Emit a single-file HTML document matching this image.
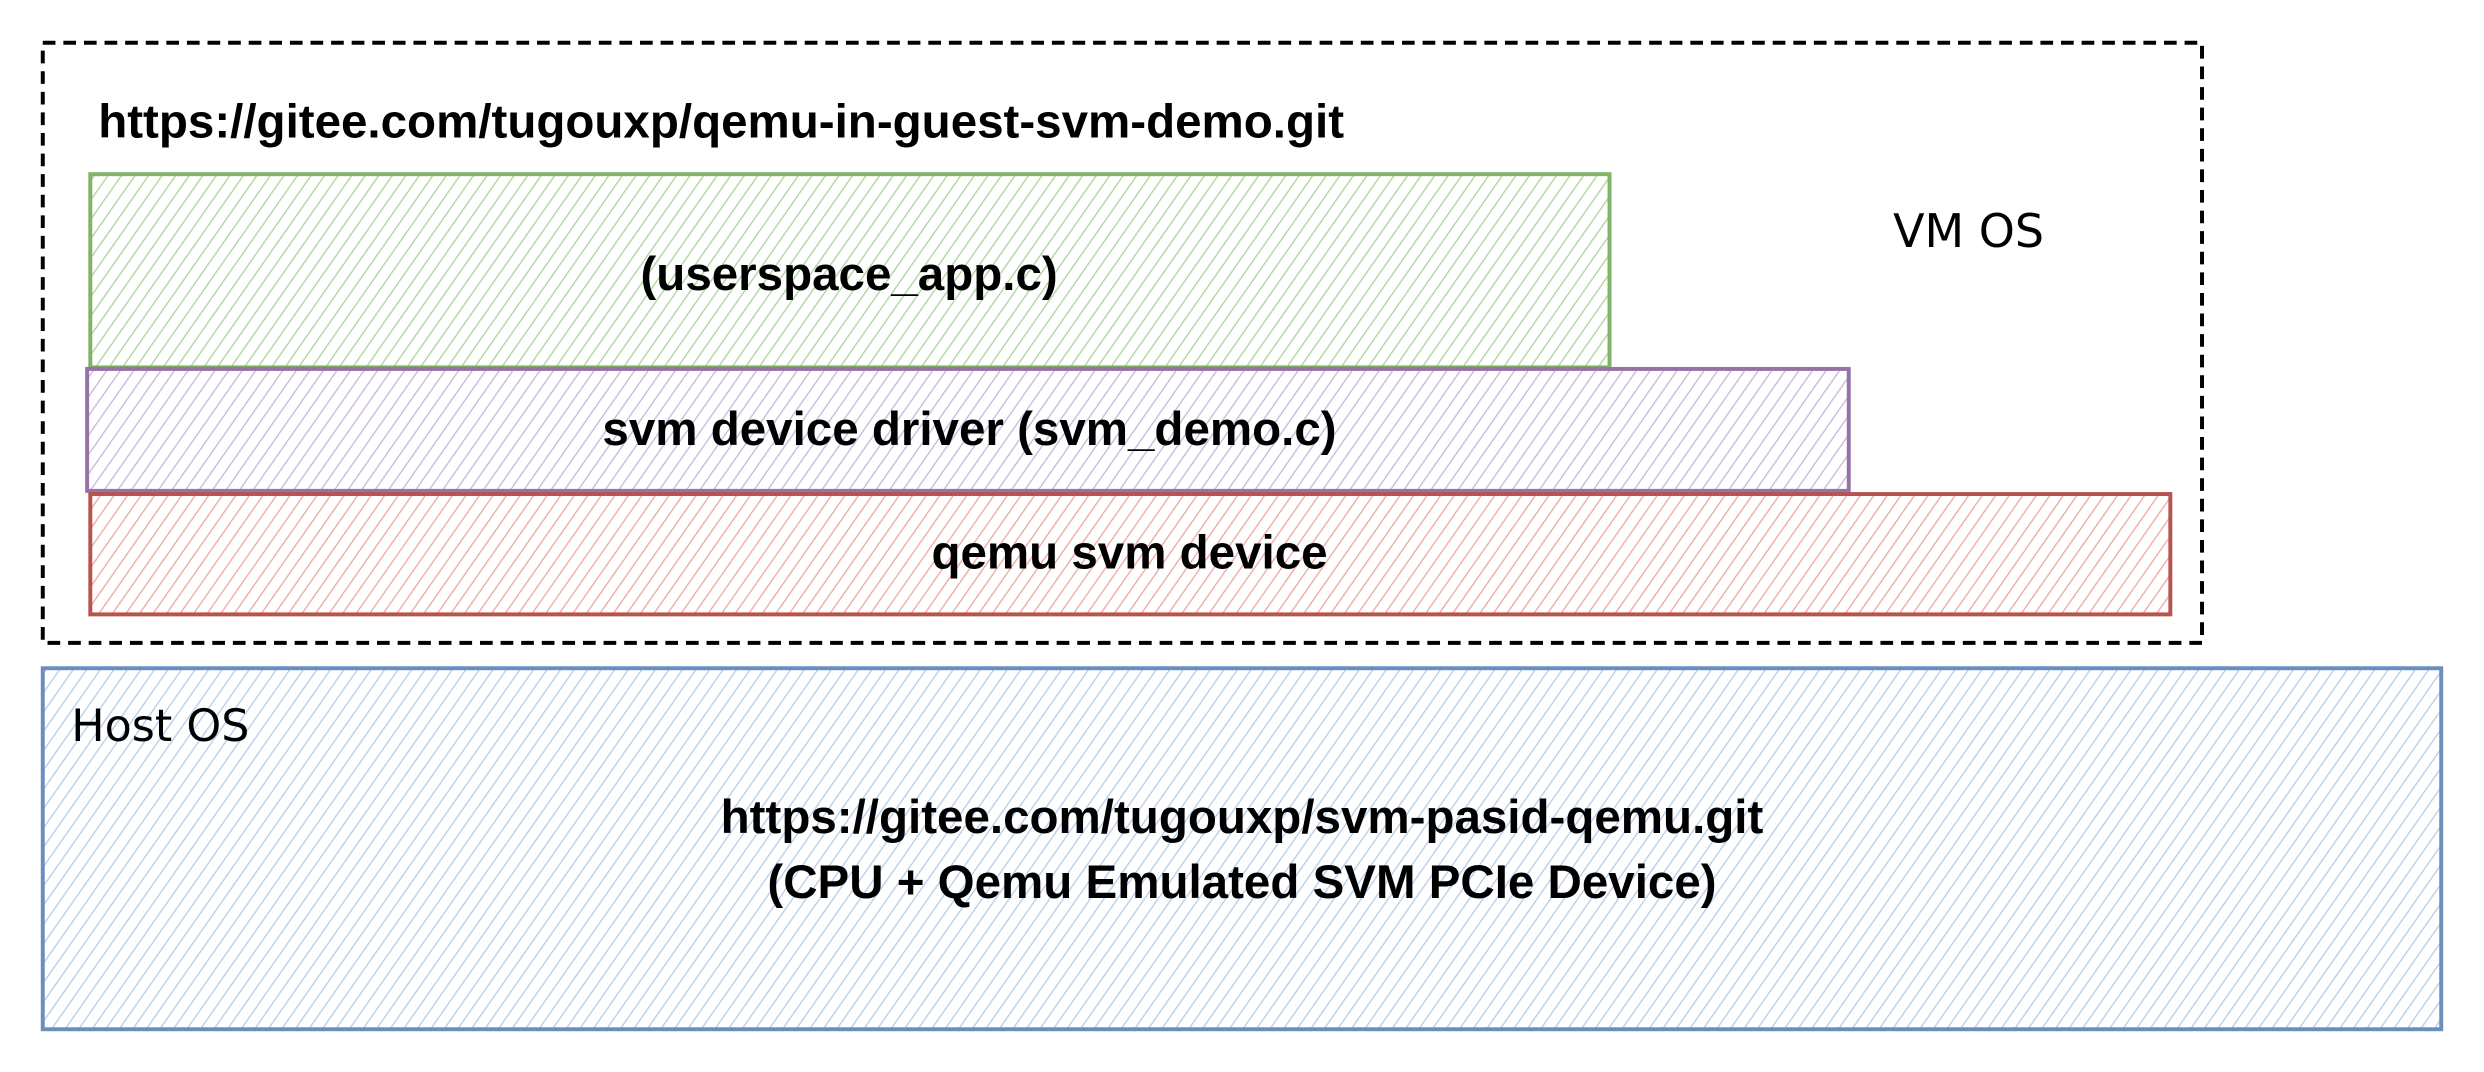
<!DOCTYPE html>
<html><head><meta charset="utf-8"><style>
html,body{margin:0;padding:0;background:#fff;}
svg{display:block;}
text{font-family:"Liberation Sans",sans-serif;font-weight:bold;fill:#000;}
.hand{font-family:"DejaVu Sans",sans-serif;font-weight:normal;}
</style></head><body>
<svg width="2484" height="1072" viewBox="0 0 1568 677" preserveAspectRatio="none" xmlns="http://www.w3.org/2000/svg">
<defs>
<pattern id="hg" width="7" height="7" patternUnits="userSpaceOnUse" patternTransform="rotate(35)"><line x1="0" y1="0" x2="0" y2="7" stroke="#a9d494" stroke-width="1.6"/></pattern>
<pattern id="hp" width="7" height="7" patternUnits="userSpaceOnUse" patternTransform="rotate(35)"><line x1="0" y1="0" x2="0" y2="7" stroke="#c9b2dc" stroke-width="1.6"/></pattern>
<pattern id="hr" width="7" height="7" patternUnits="userSpaceOnUse" patternTransform="rotate(35)"><line x1="0" y1="0" x2="0" y2="7" stroke="#f0a3a0" stroke-width="1.6"/></pattern>
<pattern id="hb" width="7" height="7" patternUnits="userSpaceOnUse" patternTransform="rotate(35)"><line x1="0" y1="0" x2="0" y2="7" stroke="#b3cbec" stroke-width="1.6"/></pattern>
</defs>
<rect x="27" y="27" width="1363" height="379" fill="none" stroke="#000" stroke-width="2.5" stroke-dasharray="8 5"/>
<text x="62" y="87" font-size="30">https://gitee.com/tugouxp/qemu-in-guest-svm-demo.git</text>
<text x="1195" y="156" font-size="29" class="hand">VM OS</text>
<rect x="57" y="110" width="959" height="122" fill="url(#hg)" stroke="#82b366" stroke-width="2.5"/>
<text x="536" y="183" font-size="30" text-anchor="middle">(userspace_app.c)</text>
<rect x="55" y="233" width="1112" height="77" fill="url(#hp)" stroke="#9673a6" stroke-width="2.5"/>
<text x="612" y="281" font-size="30" text-anchor="middle">svm device driver (svm_demo.c)</text>
<rect x="57" y="312" width="1313" height="76" fill="url(#hr)" stroke="#b85450" stroke-width="2.5"/>
<text x="713" y="359" font-size="30" text-anchor="middle">qemu svm device</text>
<rect x="27" y="422" width="1514" height="228" fill="url(#hb)" stroke="#6c8ebf" stroke-width="2.5"/>
<text x="45" y="468" font-size="28" class="hand">Host OS</text>
<text x="784" y="526" font-size="30" text-anchor="middle">https://gitee.com/tugouxp/svm-pasid-qemu.git</text>
<text x="784" y="567" font-size="30" text-anchor="middle">(CPU + Qemu Emulated SVM PCIe Device)</text>
</svg>
</body></html>
